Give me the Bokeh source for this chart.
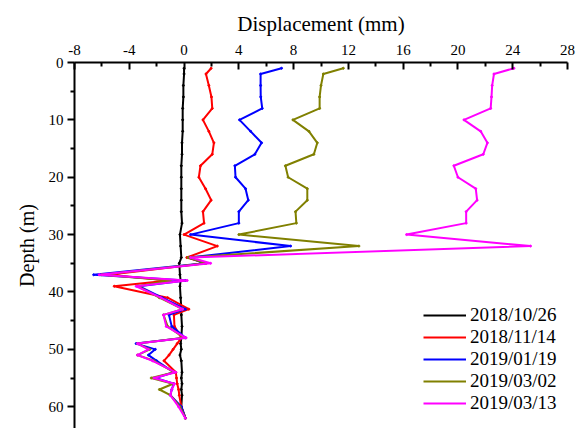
from bokeh.plotting import figure
from bokeh.models import Range1d, FixedTicker
from bokeh.embed import file_html
from bokeh.resources import INLINE

depths = [1, 2, 4, 6, 8, 10, 12, 14, 16, 18, 20, 22, 24, 26, 28, 30, 32, 34, 35, 37,
          38, 39, 41, 43, 44, 46, 48, 49, 50, 51, 52, 54, 55, 56, 57, 58, 60, 62]

d_20181026 = [0.0, 0.0, -0.05, -0.05, -0.1, -0.1, -0.1, -0.15, -0.15, -0.2, -0.2, -0.2, -0.2, -0.2,
              -0.15, -0.3, -0.25, -0.2, -0.35, -0.3, -0.25, -0.3, -0.25, -0.2, -0.2, -0.15, -0.2,
              -0.25, -0.2, -0.3, -0.2, -0.15, -0.2, -0.15, -0.2, -0.15, -0.2, 0.1]
d_20181114 = [1.98, 1.6, 1.81, 2.0, 2.06, 1.38, 1.81, 2.18, 2.06, 1.2, 1.08, 1.57, 1.98, 1.38,
              1.46, 0.0, 2.43, 0.2, 1.6, -5.5, -1.1, -5.1, -1.2, 0.35, -0.74, -0.7, -0.2,
              -0.5, -0.8, -1.1, -1.47, -0.6, -0.55, -0.5, -0.4, -0.35, -0.2, 0.1]
d_20190119 = [7.12, 5.59, 5.59, 5.6, 5.71, 4.05, 4.86, 5.66, 5.17, 3.71, 3.76, 4.49, 4.69, 4.0,
              4.0, 0.47, 7.78, 0.35, 1.5, -6.6, 0.1, -3.3, -1.6, 0.1, -1.1, -0.9, 0.1,
              -3.5, -2.1, -2.6, -2.0, -0.75, -2.1, -0.75, -0.9, -1.0, -0.2, 0.1]
d_20190302 = [11.63, 10.17, 10.0, 9.9, 9.9, 7.95, 9.12, 9.73, 9.48, 7.4, 7.6, 9.0, 9.0, 8.14,
              8.2, 4.0, 12.77, 0.3, 1.6, -6.0, -1.0, -3.4, -1.8, -0.1, -1.5, -1.2, 0.0,
              -3.4, -2.5, -3.4, -2.2, -0.7, -2.4, -0.8, -1.8, -1.0, -0.3, 0.1]
d_20190313 = [24.09, 22.63, 22.5, 22.45, 22.39, 20.44, 21.66, 22.15, 21.85, 19.7, 20.0, 21.3, 21.4, 20.6,
              20.6, 16.25, 25.3, 0.47, 1.94, -6.2, 0.23, -3.5, -1.7, -0.1, -1.5, -1.3, 0.15,
              -3.4, -2.6, -3.4, -2.3, -0.6, -2.2, -0.7, -0.9, -1.0, -0.4, 0.1]

series_names = ["2018/10/26", "2018/11/14", "2019/01/19", "2019/03/02", "2019/03/13"]
series_values = [d_20181026, d_20181114, d_20190119, d_20190302, d_20190313]
series_colors = ["#000000", "#ff0000", "#0000ff", "#808000", "#ff00ff"]

x_ticks = [-8, -4, 0, 4, 8, 12, 16, 20, 24, 28]
x_minor = [-6, -2, 2, 6, 10, 14, 18, 22, 26]
y_ticks = [0, 10, 20, 30, 40, 50, 60]
y_minor = [5, 15, 25, 35, 45, 55, 65]

FONT = "Liberation Serif"

p = figure(width=580, height=428, x_range=Range1d(-8, 28), y_range=Range1d(63.8, 0),
           x_axis_location="above", output_backend="svg", toolbar_location=None,
           min_border_left=74, min_border_right=13, min_border_top=62, min_border_bottom=0)
p.outline_line_color = None
p.xgrid.visible = False
p.ygrid.visible = False

for name, vals, col in zip(series_names, series_values, series_colors):
    p.line(vals, depths, line_color=col, line_width=2, legend_label=name)
    p.scatter(vals, depths, marker="circle", size=2, fill_color=col, line_color=col)

xa = p.xaxis[0]
xa.ticker = FixedTicker(ticks=x_ticks, minor_ticks=x_minor)
xa.major_label_overrides = {v: str(v) for v in x_ticks}
xa.axis_label = "Displacement (mm)"
xa.axis_label_text_font = FONT
xa.axis_label_text_font_style = "normal"
xa.axis_label_text_font_size = "21px"
xa.axis_label_text_color = "#000000"
xa.axis_label_standoff = 6
xa.major_label_text_font = FONT
xa.major_label_text_font_size = "15px"
xa.major_label_text_color = "#000000"
xa.major_label_standoff = 8
xa.major_tick_in = 7
xa.major_tick_out = 0
xa.minor_tick_in = 4
xa.minor_tick_out = 0
xa.axis_line_width = 2
xa.axis_line_color = "#000000"
xa.major_tick_line_width = 2
xa.minor_tick_line_width = 2

ya = p.yaxis[0]
ya.ticker = FixedTicker(ticks=y_ticks, minor_ticks=y_minor)
ya.major_label_overrides = {v: str(v) for v in y_ticks}
ya.axis_label = "Depth (m)"
ya.axis_label_text_font = FONT
ya.axis_label_text_font_style = "normal"
ya.axis_label_text_font_size = "20px"
ya.axis_label_text_color = "#000000"
ya.axis_label_standoff = 8
ya.major_label_text_font = FONT
ya.major_label_text_font_size = "15px"
ya.major_label_text_color = "#000000"
ya.major_label_standoff = 4
ya.major_tick_in = 0
ya.major_tick_out = 7
ya.minor_tick_in = 0
ya.minor_tick_out = 4
ya.axis_line_width = 2
ya.axis_line_color = "#000000"
ya.major_tick_line_width = 2
ya.minor_tick_line_width = 2

lg = p.legend[0]
lg.location = (349, 14)
lg.padding = 0
lg.margin = 0
lg.border_line_color = None
lg.background_fill_alpha = 0
lg.glyph_width = 43
lg.glyph_height = 20
lg.label_height = 20
lg.label_standoff = 4
lg.spacing = 0
lg.label_text_font = FONT
lg.label_text_font_size = "19px"
lg.label_text_color = "#000000"

open("out.html", "w").write(file_html(p, INLINE))
